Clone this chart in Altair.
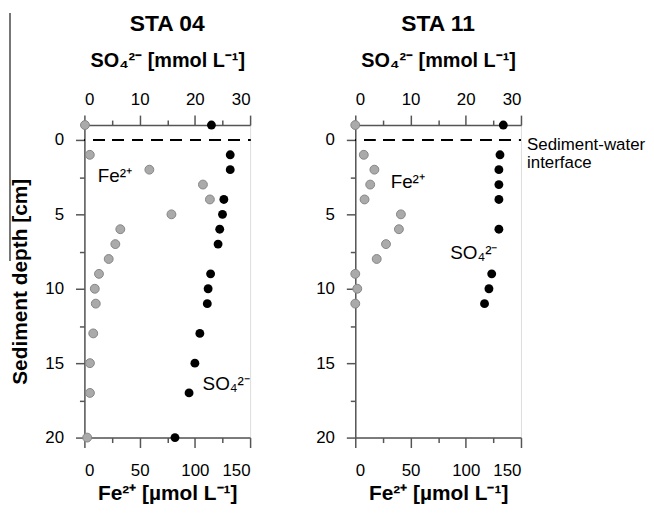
import altair as alt
import pandas as pd

FONT = "Liberation Sans"

# ---------------- data ----------------
# STA 04
s04_fe_depth = [-1, 1, 2, 3, 4, 5, 6, 7, 8, 9, 10, 11, 13, 15, 17, 20]
s04_fe = [0.5, 4.9, 58.8, 107.3, 113.6, 78.8, 32.5, 28.0, 22.0, 13.2, 9.4, 10.3, 8.0, 5.0, 5.0, 2.5]
s04_so4_depth = [-1, 1, 2, 4, 5, 6, 7, 9, 10, 11, 13, 15, 17, 20]
s04_so4 = [23.0, 26.4, 26.4, 25.25, 25.0, 24.5, 24.2, 22.85, 22.4, 22.25, 20.9, 20.0, 18.95, 16.4]

# STA 11
s11_fe_depth = [-1, 1, 2, 3, 4, 5, 6, 7, 8, 9, 10, 11]
s11_fe = [0.0, 7.7, 17.3, 13.5, 8.4, 41.3, 39.5, 27.8, 19.4, 0.0, 1.8, 0.0]
s11_so4_depth = [-1, 1, 2, 3, 4, 6, 9, 10, 11]
s11_so4 = [26.8, 26.2, 26.0, 26.0, 26.0, 26.0, 24.7, 24.2, 23.4]

# annotations (x in Fe units, depth in cm)
s04_ann_text = ["Fe²⁺", "SO₄²⁻"]
s04_ann_x = [12, 107]
s04_ann_depth = [2.4, 16.4]
s04_ann_size = [19, 19]
s11_ann_text = ["Fe²⁺", "SO₄²⁻", "Sediment-water", "interface"]
s11_ann_x = [32, 86, 155.5, 155.5]
s11_ann_depth = [2.8, 7.6, 0.35, 1.55]
s11_ann_size = [19, 19, 17, 17]

panel_titles = ["STA 04", "STA 11"]
fe_title = "Fe²⁺ [µmol L⁻¹]"
so4_title = "SO₄²⁻ [mmol L⁻¹]"
depth_title = "Sediment depth [cm]"

fe_major = [0, 50, 100, 150]
fe_minor = [25, 75, 125]
so4_major = [0, 10, 20, 30]
depth_major = [0, 5, 10, 15, 20]
depth_minor = [2.5, 7.5, 12.5, 17.5]

AX = "#555555"
W, H = 167, 315


def base_axis(**kw):
    d = dict(domainColor=AX, tickColor=AX, domainWidth=1.5, tickWidth=1.5,
             labelFont=FONT, labelFontSize=17, labelColor="black",
             titleFont=FONT, titleFontSize=20, titleFontWeight="bold",
             titleColor="black", grid=False)
    d.update(kw)
    return alt.Axis(**d)


def panel(title, fe_depth, fe, so_depth, so, ann_text, ann_x, ann_depth, ann_size,
          ytitle, deco=False):
    fe_df = pd.DataFrame({"depth": fe_depth, "fe": fe})
    so_df = pd.DataFrame({"depth": so_depth, "so4": so})
    ann_df = pd.DataFrame({"label": ann_text, "x": ann_x, "depth": ann_depth,
                           "size": ann_size})
    ysc = alt.Scale(domain=[-1, 20], reverse=True, nice=False, zero=False)
    fe_sc = alt.Scale(domain=[0, 150], nice=False, zero=False)
    so_sc = alt.Scale(domain=[0, 30], nice=False, zero=False)

    fe_layer = alt.Chart(fe_df).mark_circle(
        size=80, color="#aaaaaa", stroke="#858585", strokeWidth=1, opacity=1, clip=False
    ).encode(
        x=alt.X("fe:Q", scale=fe_sc,
                axis=base_axis(orient="bottom", values=fe_major, tickSize=10,
                               labelPadding=15, title=fe_title,
                               titlePadding=4, titleFontSize=21)),
        y=alt.Y("depth:Q", scale=ysc,
                axis=base_axis(orient="left", values=depth_major, tickSize=9,
                               labelPadding=12, title=ytitle, titlePadding=14,
                               titleFontSize=21)),
    )

    so_layer = alt.Chart(so_df).mark_circle(
        size=80, color="black", opacity=1, clip=False
    ).encode(
        x=alt.X("so4:Q", scale=so_sc,
                axis=base_axis(orient="top", values=so4_major, tickSize=10,
                               labelPadding=7, title=so4_title,
                               titlePadding=20)),
        y=alt.Y("depth:Q", scale=ysc, axis=None),
    )

    rule = alt.Chart(fe_df).mark_rule(
        color="black", strokeWidth=2, strokeDash=[11, 8.5], strokeDashOffset=10.5
    ).encode(
        x=alt.X(datum=0, scale=fe_sc,
                axis=base_axis(orient="bottom", values=fe_minor, tickSize=5,
                               labels=False, domain=False, title=None)),
        x2=alt.X2(datum=150),
        y=alt.Y(datum=0, scale=ysc,
                axis=base_axis(orient="left", values=depth_minor, tickSize=5,
                               labels=False, domain=False, title=None)),
    )

    text = alt.Chart(ann_df).mark_text(
        font=FONT, align="left", baseline="middle", color="black"
    ).encode(
        x=alt.X("x:Q", scale=fe_sc,
                axis=base_axis(orient="top", values=fe_minor, tickSize=5,
                               labels=False, domain=False, title=None)),
        y=alt.Y("depth:Q", scale=ysc, axis=None),
        text="label:N",
        size=alt.Size("size:Q", scale=None, legend=None),
    )

    ttl = alt.Chart(pd.DataFrame({"t": [title]})).mark_text(
        font=FONT, fontSize=23, fontWeight="bold", color="black",
        align="center", baseline="alphabetic"
    ).encode(x=alt.value(W / 2), y=alt.value(-95), text="t:N")

    layers = [rule, fe_layer, so_layer, text, ttl]
    if deco:
        deco_layer = alt.Chart(fe_df).mark_rule(color="#777777", strokeWidth=1.5).encode(
            x=alt.value(-75), y=alt.value(-113), y2=alt.value(137)
        )
        layers.append(deco_layer)

    return alt.layer(*layers).resolve_scale(x="independent").resolve_axis(
        y="independent"
    ).properties(width=W, height=H)


p1 = panel(panel_titles[0], s04_fe_depth, s04_fe, s04_so4_depth, s04_so4,
           s04_ann_text, s04_ann_x, s04_ann_depth, s04_ann_size,
           depth_title, deco=True)
p2 = panel(panel_titles[1], s11_fe_depth, s11_fe, s11_so4_depth, s11_so4,
           s11_ann_text, s11_ann_x, s11_ann_depth, s11_ann_size, None)

chart = alt.hconcat(p1, p2, spacing=106, bounds="flush").properties(
    padding={"left": 0, "top": 1, "right": 0, "bottom": 0}
).configure_view(stroke=None).configure(background="white")

chart.save("out.html", embed_options={"renderer": "svg", "actions": False})
